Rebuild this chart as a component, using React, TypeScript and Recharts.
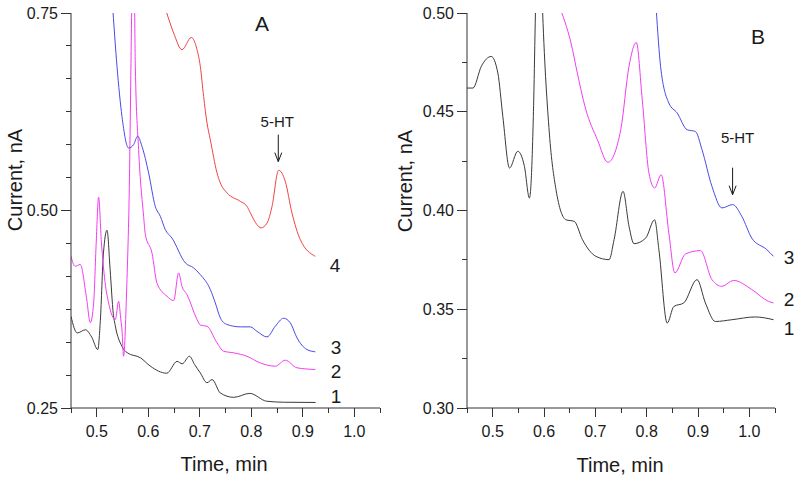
import React from 'react';
import { LineChart, Line, XAxis, YAxis, ReferenceDot } from 'recharts';

type Pt = [number, number];

// panel A traces (time, current)
const A1: Pt[] = [
  [0.45, 0.366], [0.462, 0.345], [0.478, 0.349], [0.49, 0.34], [0.502, 0.324], [0.507, 0.361],
  [0.513, 0.446], [0.52, 0.475], [0.526, 0.425], [0.532, 0.37], [0.536, 0.354], [0.549, 0.328],
  [0.559, 0.32], [0.585, 0.3135], [0.604, 0.303], [0.636, 0.294], [0.656, 0.309], [0.666, 0.306],
  [0.68, 0.3155], [0.69, 0.305], [0.701, 0.2945], [0.714, 0.282], [0.724, 0.286], [0.74, 0.269],
  [0.766, 0.2635], [0.797, 0.2685], [0.83, 0.2586], [0.863, 0.2573], [0.925, 0.257],
];
const A2: Pt[] = [
  [0.45, 0.442], [0.458, 0.4294], [0.468, 0.4316], [0.48, 0.39], [0.4875, 0.358], [0.494, 0.383],
  [0.499, 0.46], [0.5036, 0.517], [0.509, 0.46], [0.516, 0.41], [0.523, 0.383], [0.536, 0.362],
  [0.5425, 0.385], [0.547, 0.36], [0.549, 0.349], [0.552, 0.3155], [0.5587, 0.4126], [0.562, 0.488],
  [0.5715, 0.85], [0.5749, 0.682], [0.5813, 0.577], [0.591, 0.4927], [0.5943, 0.47], [0.6073, 0.446],
  [0.617, 0.408], [0.6364, 0.3915], [0.6493, 0.386], [0.659, 0.421], [0.6655, 0.404], [0.6752, 0.3936],
  [0.6947, 0.362], [0.701, 0.355], [0.714, 0.3535], [0.7335, 0.3325], [0.7463, 0.3219], [0.766, 0.3198],
  [0.7917, 0.3155], [0.8176, 0.307], [0.8467, 0.3029], [0.8661, 0.3105], [0.8888, 0.3009], [0.9244, 0.2987],
];
const A3: Pt[] = [
  [0.5315, 0.752], [0.5393, 0.6825], [0.549, 0.619], [0.5619, 0.579], [0.5716, 0.5834], [0.5793, 0.594],
  [0.5879, 0.581], [0.6007, 0.5476], [0.6137, 0.505], [0.6234, 0.4927], [0.6331, 0.4758], [0.6461, 0.465],
  [0.672, 0.4337], [0.688, 0.4274], [0.701, 0.4189], [0.7205, 0.4], [0.7302, 0.383], [0.74, 0.364],
  [0.7529, 0.3557], [0.7787, 0.3527], [0.7982, 0.3527], [0.8112, 0.347], [0.8306, 0.34], [0.8467, 0.3535],
  [0.8628, 0.3636], [0.8758, 0.3578], [0.8888, 0.3388], [0.9082, 0.324], [0.9244, 0.3211],
];
const A4: Pt[] = [
  [0.635, 0.752], [0.6493, 0.7247], [0.6655, 0.7036], [0.6836, 0.719], [0.6947, 0.7036], [0.7011, 0.6824],
  [0.7075, 0.6445], [0.7141, 0.6108], [0.7205, 0.5897], [0.7335, 0.5476], [0.7399, 0.5349], [0.7529, 0.5223],
  [0.7787, 0.5116], [0.7917, 0.5053], [0.7982, 0.497], [0.8112, 0.482], [0.8189, 0.478], [0.8306, 0.484],
  [0.8403, 0.505], [0.8531, 0.5509], [0.866, 0.537], [0.879, 0.497], [0.8952, 0.4632], [0.9244, 0.442],
];

// panel B traces
const B1: Pt[] = [
  [0.45, 0.462], [0.4616, 0.462], [0.4779, 0.473], [0.4973, 0.478], [0.5101, 0.4696], [0.5198, 0.4476],
  [0.5328, 0.4215], [0.5489, 0.43], [0.5619, 0.4223], [0.5716, 0.4063], [0.58, 0.456], [0.5833, 0.5],
  [0.59, 0.56], [0.5974, 0.5], [0.6104, 0.4392], [0.6234, 0.4105], [0.6428, 0.3953], [0.6589, 0.3945],
  [0.675, 0.3852], [0.701, 0.3768], [0.7268, 0.3751], [0.7365, 0.3852], [0.754, 0.4097], [0.7656, 0.392],
  [0.7753, 0.3832], [0.798, 0.386], [0.8155, 0.3953], [0.8238, 0.3802], [0.84, 0.343], [0.8529, 0.3514],
  [0.8723, 0.3532], [0.8981, 0.365], [0.9144, 0.3532], [0.9338, 0.3438], [0.966, 0.3447], [1.0114, 0.3461],
  [1.047, 0.3447],
];
const B2: Pt[] = [
  [0.632, 0.502], [0.6556, 0.4814], [0.6622, 0.473], [0.6816, 0.451], [0.7041, 0.4358], [0.7245, 0.4244],
  [0.7495, 0.4409], [0.7656, 0.473], [0.7798, 0.4851], [0.7914, 0.4561], [0.8044, 0.419], [0.8155, 0.4114],
  [0.8283, 0.4181], [0.8432, 0.3886], [0.8549, 0.3684], [0.8756, 0.378], [0.9047, 0.3797], [0.9272, 0.365],
  [0.9466, 0.3616], [0.9693, 0.3646], [1.0048, 0.36], [1.0372, 0.354], [1.047, 0.3532],
];
const B3: Pt[] = [
  [0.8186, 0.502], [0.8271, 0.473], [0.8432, 0.4544], [0.8593, 0.4494], [0.8787, 0.4409], [0.895, 0.44],
  [0.9078, 0.4308], [0.9272, 0.4122], [0.9466, 0.4013], [0.9674, 0.403], [0.9854, 0.397], [1.0048, 0.386],
  [1.0339, 0.3802], [1.047, 0.3768],
];

const X_DOMAIN: [number, number] = [0.45, 1.05];
const X_TICKS = [0.45, 0.5, 0.55, 0.6, 0.65, 0.7, 0.75, 0.8, 0.85, 0.9, 0.95, 1.0, 1.05];
const X_MAJOR = [0.5, 0.6, 0.7, 0.8, 0.9, 1.0];
const A_Y_DOMAIN: [number, number] = [0.25, 0.75];
const A_Y_TICKS = [0.25, 0.2917, 0.3333, 0.375, 0.4167, 0.4583, 0.5, 0.5417, 0.5833, 0.625, 0.6667, 0.7083, 0.75];
const A_Y_MAJOR = [0.25, 0.5, 0.75];
const B_Y_DOMAIN: [number, number] = [0.3, 0.5];
const B_Y_TICKS = [0.3, 0.325, 0.35, 0.375, 0.4, 0.425, 0.45, 0.475, 0.5];
const B_Y_MAJOR = [0.3, 0.35, 0.4, 0.45, 0.5];

const AXIS = '#333';
const INK = '#1a1a1a';
const C_BLACK = '#3a3a3a';
const C_PINK = '#f23cf2';
const C_BLUE = '#4a4ae6';
const C_RED = '#f04444';

// plot boxes in page pixels (chart offset + margins + axis sizes)
const TOP = 13;
const BOTTOM = 408;
const BOX_A = { left: 71, right: 380 };
const BOX_B = { left: 467, right: 775 };

const toRows = (pts: Pt[]) => pts.map(([t, v]) => ({ t, v }));
const isMajor = (v: number, list: number[]) => list.some((m) => Math.abs(m - v) < 1e-6);

function XTick(props: any) {
  const { x, y, payload } = props;
  if (!isMajor(payload.value, X_MAJOR)) return <g />;
  return (
    <text x={x} y={y + 29} textAnchor="middle" fontSize={16} fill={INK}>
      {payload.value.toFixed(1)}
    </text>
  );
}

const makeYTick = (majors: number[]) => (props: any) => {
  const { x, y, payload } = props;
  if (!isMajor(payload.value, majors)) return <g />;
  return (
    <text x={x - 13} y={y + 5.5} textAnchor="end" fontSize={16} fill={INK}>
      {payload.value.toFixed(2)}
    </text>
  );
};

const arrowMark = (gap: number, dx: number) => (props: any) => {
  const { cx, cy } = props;
  return (
    <g>
      <text x={cx + dx} y={cy - 27 - gap} textAnchor="middle" fontSize={15} fill={INK}>5-HT</text>
      <line x1={cx} x2={cx} y1={cy - 27} y2={cy} stroke={INK} />
      <polyline points={`${cx - 3.5},${cy - 9} ${cx},${cy} ${cx + 3.5},${cy - 9}`} fill="none" stroke={INK} />
    </g>
  );
};

// tick marks for one panel, placed with the same linear mapping as the axes
function TickMarks({ box, yDomain, yTicks, yMajor }: {
  box: { left: number; right: number };
  yDomain: [number, number];
  yTicks: number[];
  yMajor: number[];
}) {
  const sx = (t: number) => box.left + ((t - X_DOMAIN[0]) / (X_DOMAIN[1] - X_DOMAIN[0])) * (box.right - box.left);
  const sy = (v: number) => BOTTOM - ((v - yDomain[0]) / (yDomain[1] - yDomain[0])) * (BOTTOM - TOP);
  return (
    <g stroke={AXIS} strokeWidth={1} shapeRendering="crispEdges">
      {X_TICKS.map((t) => (
        <line key={`x${t}`} x1={sx(t)} x2={sx(t)} y1={BOTTOM} y2={BOTTOM + (isMajor(t, X_MAJOR) ? 9 : 5)} />
      ))}
      {yTicks.map((v) => (
        <line key={`y${v}`} x1={box.left - (isMajor(v, yMajor) ? 10 : 5)} x2={box.left} y1={sy(v)} y2={sy(v)} />
      ))}
    </g>
  );
}

type PanelProps = {
  series: { pts: Pt[]; color: string }[];
  yDomain: [number, number];
  yTicks: number[];
  yMajor: number[];
  yWidth: number;
  right: number;
  arrow: { t: number; v: number; gap: number; dx: number };
};

function Panel({ series, yDomain, yTicks, yMajor, yWidth, right, arrow }: PanelProps) {
  return (
    <LineChart width={400} height={480} margin={{ top: TOP, right, bottom: 0, left: 0 }}>
      <XAxis
        type="number"
        dataKey="t"
        domain={X_DOMAIN}
        allowDataOverflow
        ticks={X_TICKS}
        interval={0}
        height={480 - BOTTOM}
        tickSize={0}
        tickMargin={0}
        tickLine={false}
        tick={XTick}
        axisLine={{ stroke: AXIS }}
      />
      <YAxis
        type="number"
        domain={yDomain}
        allowDataOverflow
        ticks={yTicks}
        interval={0}
        width={yWidth}
        tickSize={0}
        tickMargin={0}
        tickLine={false}
        tick={makeYTick(yMajor)}
        axisLine={{ stroke: AXIS }}
      />
      {series.map((s, i) => (
        <Line
          key={i}
          data={toRows(s.pts)}
          dataKey="v"
          type="monotone"
          stroke={s.color}
          strokeWidth={1}
          dot={false}
          isAnimationActive={false}
        />
      ))}
      <ReferenceDot x={arrow.t} y={arrow.v} r={0} shape={arrowMark(arrow.gap, arrow.dx)} />
    </LineChart>
  );
}

export default function App() {
  return (
    <div
      style={{
        position: 'absolute',
        left: 0,
        top: 0,
        width: 800,
        height: 480,
        background: '#fff',
        fontFamily: '"Liberation Sans", Arial, sans-serif',
      }}
    >
      <div style={{ position: 'absolute', left: 0, top: 0 }}>
        <Panel
          series={[
            { pts: A1, color: C_BLACK },
            { pts: A2, color: C_PINK },
            { pts: A3, color: C_BLUE },
            { pts: A4, color: C_RED },
          ]}
          yDomain={A_Y_DOMAIN}
          yTicks={A_Y_TICKS}
          yMajor={A_Y_MAJOR}
          yWidth={BOX_A.left}
          right={400 - BOX_A.right}
          arrow={{ t: 0.8525, v: 0.5619, gap: 8, dx: -1 }}
        />
      </div>
      <div style={{ position: 'absolute', left: 400, top: 0 }}>
        <Panel
          series={[
            { pts: B1, color: C_BLACK },
            { pts: B2, color: C_PINK },
            { pts: B3, color: C_BLUE },
          ]}
          yDomain={B_Y_DOMAIN}
          yTicks={B_Y_TICKS}
          yMajor={B_Y_MAJOR}
          yWidth={BOX_B.left - 400}
          right={800 - BOX_B.right}
          arrow={{ t: 0.9674, v: 0.408, gap: 25, dx: 5 }}
        />
      </div>
      <svg
        width={800}
        height={480}
        style={{ position: 'absolute', left: 0, top: 0, pointerEvents: 'none' }}
        fill={INK}
      >
        <TickMarks box={BOX_A} yDomain={A_Y_DOMAIN} yTicks={A_Y_TICKS} yMajor={A_Y_MAJOR} />
        <TickMarks box={BOX_B} yDomain={B_Y_DOMAIN} yTicks={B_Y_TICKS} yMajor={B_Y_MAJOR} />
        <text x={15} y={180} fontSize={20} textAnchor="middle" dominantBaseline="central" transform="rotate(-90 15 180)">
          Current, nA
        </text>
        <text x={405} y={181} fontSize={20} textAnchor="middle" dominantBaseline="central" transform="rotate(-90 405 181)">
          Current, nA
        </text>
        <text x={224} y={471} fontSize={20} textAnchor="middle">Time, min</text>
        <text x={620} y={472} fontSize={20} textAnchor="middle">Time, min</text>
        <text x={262} y={31} fontSize={21} textAnchor="middle">A</text>
        <text x={758} y={44} fontSize={21} textAnchor="middle">B</text>
        <text x={335} y={272} fontSize={19} textAnchor="middle">4</text>
        <text x={336} y={354} fontSize={19} textAnchor="middle">3</text>
        <text x={336} y={378} fontSize={19} textAnchor="middle">2</text>
        <text x={336} y={403} fontSize={19} textAnchor="middle">1</text>
        <text x={789} y={264} fontSize={19} textAnchor="middle">3</text>
        <text x={789} y={306} fontSize={19} textAnchor="middle">2</text>
        <text x={789} y={335} fontSize={19} textAnchor="middle">1</text>
      </svg>
    </div>
  );
}
